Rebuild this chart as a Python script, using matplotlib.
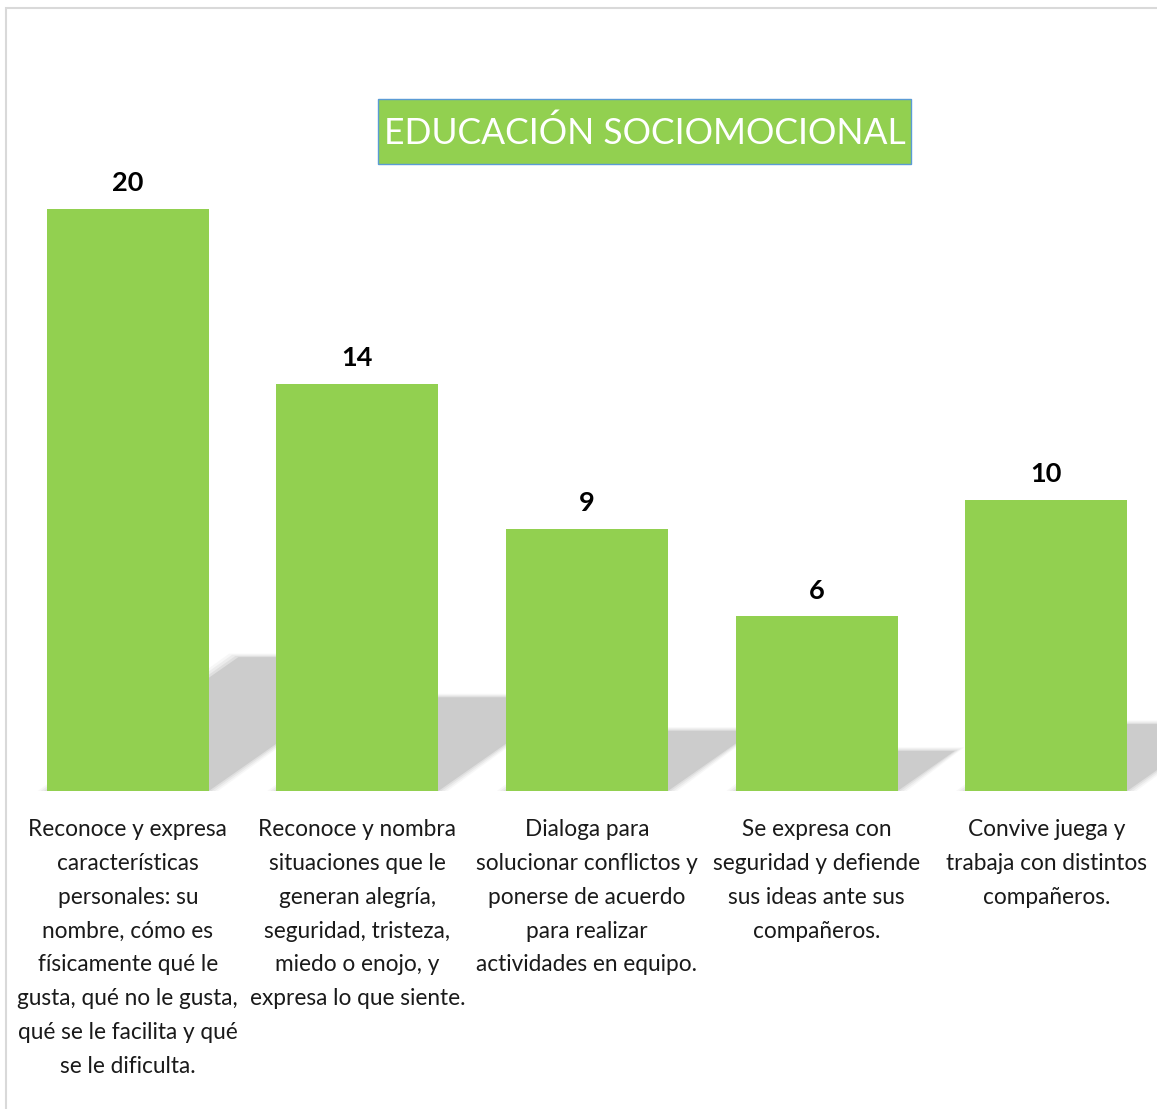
import matplotlib.pyplot as plt
from matplotlib.patches import Polygon, Rectangle

categorias = [
    "Reconoce y expresa\ncaracterísticas\npersonales: su\nnombre, cómo es\nfísicamente qué le\ngusta, qué no le gusta,\nqué se le facilita y qué\nse le dificulta.",
    "Reconoce y nombra\nsituaciones que le\ngeneran alegría,\nseguridad, tristeza,\nmiedo o enojo, y\nexpresa lo que siente.",
    "Dialoga para\nsolucionar conflictos y\nponerse de acuerdo\npara realizar\nactividades en equipo.",
    "Se expresa con\nseguridad y defiende\nsus ideas ante sus\ncompañeros.",
    "Convive juega y\ntrabaja con distintos\ncompañeros.",
]
valores = [20, 14, 9, 6, 10]
titulo = "EDUCACIÓN SOCIOMOCIONAL"

verde = "#92d050"
fuente = "Lato"

fig = plt.figure(figsize=(11.57, 11.09), dpi=100)
ax = fig.add_axes([13 / 1157, 318 / 1109, 1148 / 1157, 727.5 / 1109])
ax.set_xlim(-0.5, 4.5)
ax.set_ylim(0, 25)
ax.axis("off")

ancho = 0.705
barras = ax.bar(range(len(valores)), valores, width=ancho, color=verde, zorder=3)

# sombra diagonal detras de cada barra (borde difuso con capas)
for i, v in enumerate(valores):
    h = 0.23 * v
    dx = v * 0.0417
    x0 = i - ancho / 2
    x1 = i + ancho / 2
    for k, a in [(0.04, 0.15), (0.027, 0.25), (0.013, 0.4), (0.0, 1.0)]:
        pts = [(x0 - k, 0), (x1 + k, 0), (x1 + dx + k, h + k * 3), (x0 + dx - k, h + k * 3)]
        ax.add_patch(Polygon(pts, closed=True, facecolor="#cccccc", edgecolor="none",
                             alpha=a, zorder=1, clip_on=False))

for i, v in enumerate(valores):
    ax.annotate(str(v), (i, v), xytext=(0, 10), textcoords="offset points",
                ha="center", va="bottom", fontsize=19.5, fontweight="bold",
                family=fuente, color="black")
    ax.annotate(categorias[i], (i, 0), xytext=(0, -20), textcoords="offset points",
                ha="center", va="top", fontsize=16.3, family=fuente,
                color="#1a1a1a", linespacing=1.76)

# titulo en caja verde
fig.patches.append(Rectangle((378 / 1157, 1 - 164 / 1109), 533 / 1157, 65 / 1109,
                             transform=fig.transFigure, facecolor=verde,
                             edgecolor="#5b9bd5", linewidth=1))
fig.text(644.5 / 1157, 1 - 133 / 1109, titulo, ha="center", va="center",
         fontsize=25.6, color="white", family=fuente)

# marco gris
fig.patches.append(Rectangle((6 / 1157, -0.01), 1.1, 1 - 8 / 1109 + 0.01,
                             transform=fig.transFigure, facecolor="none",
                             edgecolor="#d9d9d9", linewidth=1.5))

fig.savefig("out.png", dpi=100, facecolor="white")
